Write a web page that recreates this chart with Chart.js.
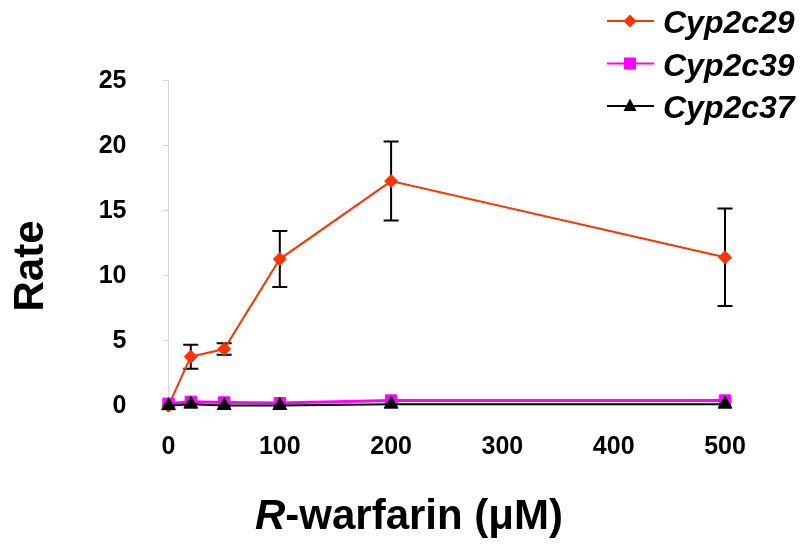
<!DOCTYPE html>
<html>
<head>
<meta charset="utf-8">
<script src="https://cdn.jsdelivr.net/npm/chart.js@4/dist/chart.umd.min.js"></script>
<style>
  html, body { margin: 0; padding: 0; background: #fff; }
  #wrap { position: relative; width: 800px; height: 545px; }
</style>
</head>
<body>
<div id="wrap"><canvas id="rateChart"></canvas></div>
<script>
// R-warfarin concentration (uM) and rates
var doses = [0, 20, 50, 100, 200, 500];
var cyp2c29 = [0, 3.77, 4.36, 11.28, 17.28, 11.42];
var cyp2c29Sd = [0, 0.92, 0.45, 2.15, 3.04, 3.75];
var cyp2c39 = [0.15, 0.3, 0.25, 0.2, 0.4, 0.4];
var cyp2c37 = [0, 0.12, 0.02, 0.02, 0.12, 0.12];
var seriesNames = ['Cyp2c29', 'Cyp2c39', 'Cyp2c37'];
var xTitle = ['R', '-warfarin (\u03bcM)'];
var yTitle = 'Rate';

var FONT = '"Liberation Sans", Arial, Helvetica, sans-serif';
var colors = ['#ff3300', '#ff00ff', '#000000'];
var markers = ['rectRot', 'rect', 'triangle'];

function toPoints(ys) {
  return doses.map(function(d, i) { return { x: d, y: ys[i] }; });
}

// error bars for Cyp2c29, drawn under the markers
var errorBars = {
  id: 'errorBars',
  beforeDatasetsDraw: function(chart) {
    var ctx = chart.ctx, xs = chart.scales.x, ys = chart.scales.y;
    ctx.save();
    ctx.strokeStyle = '#000';
    ctx.lineWidth = 2;
    doses.forEach(function(d, i) {
      if (!cyp2c29Sd[i]) return;
      var px = xs.getPixelForValue(d);
      var top = ys.getPixelForValue(cyp2c29[i] + cyp2c29Sd[i]);
      var bot = ys.getPixelForValue(cyp2c29[i] - cyp2c29Sd[i]);
      ctx.beginPath();
      ctx.moveTo(px, top); ctx.lineTo(px, bot);
      ctx.moveTo(px - 7.5, top); ctx.lineTo(px + 7.5, top);
      ctx.moveTo(px - 7.5, bot); ctx.lineTo(px + 7.5, bot);
      ctx.stroke();
    });
    ctx.restore();
  }
};

function drawMarker(ctx, kind, x, y) {
  ctx.beginPath();
  if (kind === 'rectRot') {
    ctx.moveTo(x, y - 6.5); ctx.lineTo(x + 6.5, y); ctx.lineTo(x, y + 6.5); ctx.lineTo(x - 6.5, y);
  } else if (kind === 'rect') {
    ctx.rect(x - 6, y - 6, 12, 12);
  } else {
    ctx.moveTo(x, y - 7.5); ctx.lineTo(x + 6.5, y + 5); ctx.lineTo(x - 6.5, y + 5);
  }
  ctx.closePath();
  ctx.fill();
}

// axis titles (italic R) and the legend in the top right corner
var decorations = {
  id: 'decorations',
  afterDraw: function(chart) {
    var ctx = chart.ctx;
    ctx.save();
    ctx.fillStyle = '#000';
    ctx.textBaseline = 'alphabetic';

    // y title
    ctx.save();
    ctx.translate(43, 266);
    ctx.rotate(-Math.PI / 2);
    ctx.font = 'bold 42px ' + FONT;
    ctx.textAlign = 'center';
    ctx.fillText(yTitle, 0, 0);
    ctx.restore();

    // x title, first letter italic
    ctx.textAlign = 'left';
    ctx.font = 'italic bold 42px ' + FONT;
    var w1 = ctx.measureText(xTitle[0]).width;
    ctx.font = 'bold 42px ' + FONT;
    var w2 = ctx.measureText(xTitle[1]).width;
    var x0 = 409 - (w1 + w2) / 2;
    ctx.font = 'italic bold 42px ' + FONT;
    ctx.fillText(xTitle[0], x0, 529);
    ctx.font = 'bold 42px ' + FONT;
    ctx.fillText(xTitle[1], x0 + w1, 529);

    // legend
    var baselines = [33, 75.5, 118];
    seriesNames.forEach(function(name, i) {
      var ly = baselines[i] - 12;
      ctx.strokeStyle = colors[i];
      ctx.fillStyle = colors[i];
      ctx.lineWidth = 2;
      ctx.beginPath();
      ctx.moveTo(607, ly); ctx.lineTo(654, ly);
      ctx.stroke();
      drawMarker(ctx, markers[i], 630, ly);
      ctx.fillStyle = '#000';
      ctx.font = 'italic bold 32px ' + FONT;
      ctx.fillText(name, 663, baselines[i]);
    });
    ctx.restore();
  }
};

function makeSet(label, ys, i, radius, width, order) {
  return {
    label: label,
    data: toPoints(ys),
    borderColor: colors[i],
    backgroundColor: colors[i],
    borderWidth: width,
    pointStyle: markers[i],
    pointRadius: radius,
    pointBorderWidth: 1,
    pointBorderColor: colors[i],
    pointBackgroundColor: colors[i],
    tension: 0,
    clip: false,
    order: order
  };
}

var ctx = document.getElementById('rateChart').getContext('2d');
new Chart(ctx, {
  type: 'line',
  data: {
    datasets: [
      makeSet(seriesNames[0], cyp2c29, 0, 6.5, 2, 3),
      makeSet(seriesNames[1], cyp2c39, 1, 8, 3, 2),
      makeSet(seriesNames[2], cyp2c37, 2, 8, 2, 1)
    ]
  },
  plugins: [errorBars, decorations],
  options: {
    responsive: true,
    maintainAspectRatio: false,
    animation: false,
    layout: { padding: { top: 80.7, right: 75, bottom: 0, left: 0 } },
    plugins: {
      legend: { display: false },
      tooltip: { enabled: false }
    },
    scales: {
      x: {
        type: 'linear',
        min: 0,
        max: 500,
        afterFit: function(s) { s.height = 545 - 405.7; },
        ticks: {
          stepSize: 100,
          color: '#000',
          padding: 26,
          maxRotation: 0,
          font: { family: FONT, size: 25, weight: 'bold' }
        },
        grid: { display: false, drawTicks: false },
        border: { display: false }
      },
      y: {
        min: 0,
        max: 25,
        afterFit: function(s) { s.width = 168.5; },
        ticks: {
          stepSize: 5,
          color: '#000',
          padding: 36,
          font: { family: FONT, size: 25, weight: 'bold' }
        },
        grid: { drawOnChartArea: false, tickLength: 6, color: '#d6d6d6' },
        border: { display: true, color: '#d6d6d6', width: 1 }
      }
    }
  }
});
</script>
</body>
</html>
